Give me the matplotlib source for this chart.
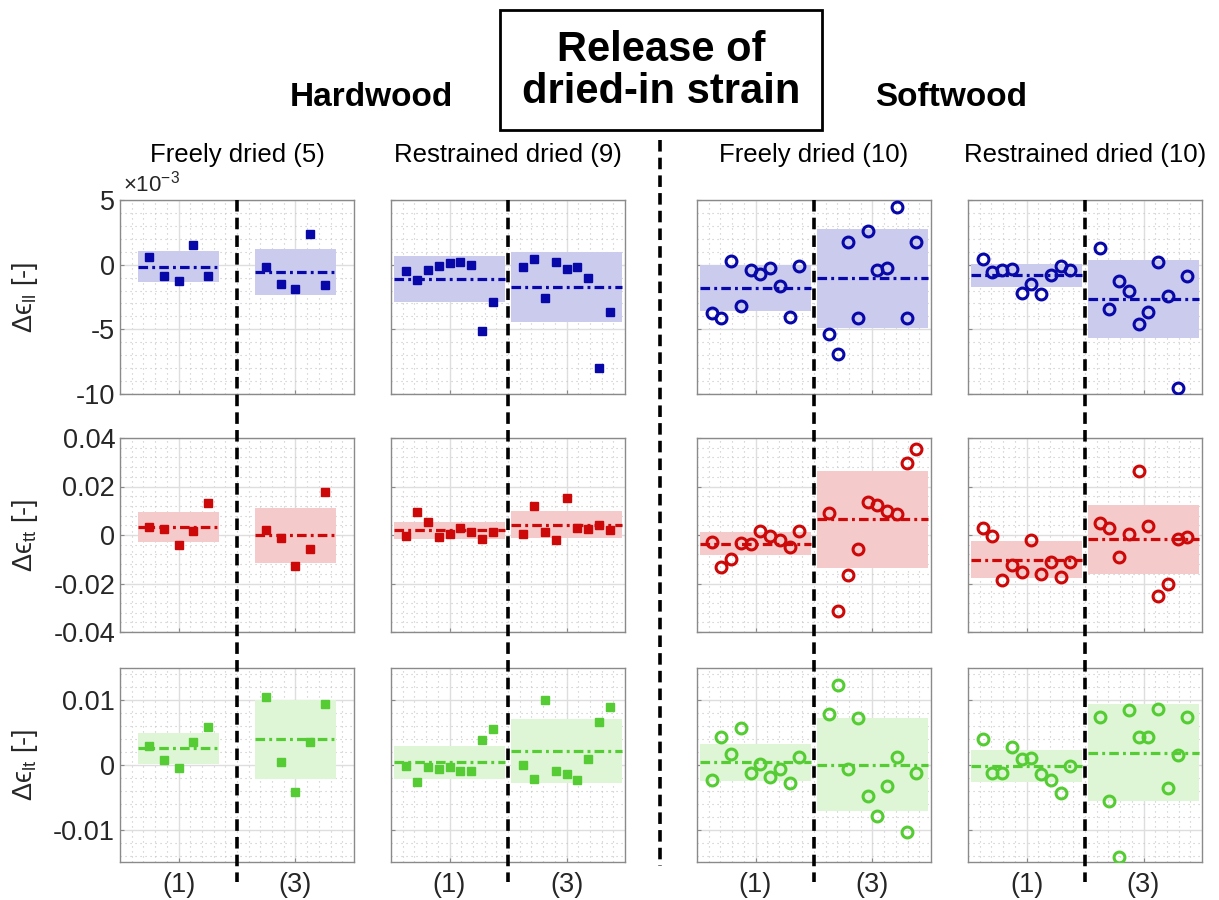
import numpy as np
import matplotlib
matplotlib.use("Agg")
import matplotlib.pyplot as plt
from matplotlib.patches import Rectangle
from matplotlib.lines import Line2D
from matplotlib.ticker import MultipleLocator, FixedLocator, FuncFormatter

plt.rcParams['font.family'] = ['Liberation Sans', 'DejaVu Sans']
plt.rcParams['mathtext.fontset'] = 'custom'
plt.rcParams['mathtext.rm'] = 'Liberation Sans'
plt.rcParams['mathtext.it'] = 'Liberation Sans:italic'
plt.rcParams['mathtext.bf'] = 'Liberation Sans:bold'

# ---- data (all strains in units of 1e-3), each entry = (group (1), group (3)) ----
col_titles = ["Freely dried (5)", "Restrained dried (9)", "Freely dried (10)", "Restrained dried (10)"]
group_labels = ["(1)", "(3)"]
row_labels = ["\u0394\u03f5$_{\\rm ll}$ [-]", "\u0394\u03f5$_{\\rm tt}$ [-]", "\u0394\u03f5$_{\\rm lt}$ [-]"]

ll_hw_free = ([0.62, -0.85, -1.24, 1.55, -0.85],
              [-0.21, -1.52, -1.91, 2.40, -1.57])
ll_hw_restr = ([-0.52, -1.21, -0.41, -0.13, 0.10, 0.23, -0.03, -5.13, -2.86],
               [-0.18, 0.41, -2.55, 0.18, -0.34, -0.15, -1.06, -7.96, -3.63])
ll_sw_free = ([-3.71, -4.12, 0.31, -3.22, -0.44, -0.70, -0.23, -1.65, -4.02, -0.08],
              [-5.36, -6.91, 1.75, -4.15, 2.63, -0.44, -0.26, 4.48, -4.15, 1.75])
ll_sw_restr = ([0.44, -0.59, -0.44, -0.34, -2.16, -1.47, -2.27, -0.80, -0.13, -0.39],
               [1.31, -3.43, -1.24, -2.04, -4.56, -3.66, 0.21, -2.45, -9.56, -0.90])

tt_hw_free = ([3.2, 2.5, -4.2, 1.5, 13.3],
              [2.2, -1.25, -12.8, -5.8, 17.6])
tt_hw_restr = ([-0.6, 9.6, 5.3, -1.0, 0.3, 2.8, 1.1, -1.8, 1.25],
               [0.4, 11.8, 1.25, -2.2, 15.1, 2.9, 2.5, 4.3, 2.1])
tt_sw_free = ([-2.8, -13.2, -9.7, -3.3, -3.6, 1.8, -0.4, -1.9, -5.0, 1.5],
              [9.0, -31.4, -16.3, -5.7, 13.7, 12.3, 9.7, 8.8, 29.7, 35.4])
tt_sw_restr = ([2.8, -0.4, -18.6, -12.4, -15.2, -2.1, -15.9, -11.2, -17.5, -11.2],
               [4.8, 2.9, -9.1, 0.55, 26.5, 3.7, -25.0, -20.1, -1.7, -0.7])

lt_hw_free = ([3.0, 0.8, -0.4, 3.6, 5.8],
              [10.5, 0.5, -4.1, 3.5, 9.5])
lt_hw_restr = ([-0.15, -2.6, -0.26, -0.6, -0.26, -1.0, -1.0, 3.9, 5.5],
               [0.0, -2.1, 10.05, -0.9, -1.45, -2.3, 1.0, 6.7, 8.9])
lt_sw_free = ([-2.3, 4.4, 1.7, 5.7, -1.3, 0.15, -1.9, -0.6, -2.8, 1.2],
              [7.9, 12.3, -0.6, 7.2, -4.75, -7.9, -3.3, 1.2, -10.3, -1.2])
lt_sw_restr = ([4.0, -1.25, -1.25, 2.85, 1.0, 1.15, -1.35, -2.3, -4.35, -0.15],
               [7.4, -5.5, -14.3, 8.5, 4.3, 4.4, 8.7, -3.6, 1.55, 7.45])

rows = [[ll_hw_free, ll_hw_restr, ll_sw_free, ll_sw_restr],
        [tt_hw_free, tt_hw_restr, tt_sw_free, tt_sw_restr],
        [lt_hw_free, lt_hw_restr, lt_sw_free, lt_sw_restr]]

row_colors = ["#0808A8", "#CC0808", "#55CC33"]
row_fills = ["#CBCBEE", "#F4CACA", "#DEF5D6"]
row_ylim = [(-10e-3, 5e-3), (-0.04, 0.04), (-0.015, 0.015)]
row_major = [5e-3, 0.02, 0.01]
row_minor = [1e-3, 0.004, 0.002]

W, H = 1219, 900
col_left = [120, 391, 697, 968]
row_top = [200, 438, 668]
ax_w, ax_h = 234, 194


def fx(px):
    return px / W


def fy(py):
    return 1 - py / H


def draw_panel(ax, pair, color, fill, hollow):
    for k, vals in enumerate(pair):
        v = np.asarray(vals) * 1e-3
        n = len(v)
        half = 0.5 if n < 6 else 0.75
        c = 1 + 2 * k
        xs = np.linspace(c - half, c + half, n)
        m, s = v.mean(), v.std(ddof=1)
        x0, x1 = c - half - 0.2, c + half + 0.2
        ax.fill_between([x0, x1], [m - s] * 2, [m + s] * 2, color=fill, lw=0, zorder=2)
        ax.plot([x0, x1], [m, m], ls=(0, (3.0, 1.3, 0.9, 1.3)), color=color, lw=2.3, zorder=3)
        if hollow:
            ax.plot(xs, v, "o", mfc="none", mec=color, mew=2.2, ms=7.8, zorder=4)
        else:
            ax.plot(xs, v, "s", color=color, ms=6.3, zorder=4)


fig = plt.figure(figsize=(W / 100, H / 100), dpi=100)

for r in range(3):
    for c in range(4):
        ax = fig.add_axes([fx(col_left[c]), fy(row_top[r] + ax_h), fx(ax_w), ax_h / H])
        draw_panel(ax, rows[r][c], row_colors[r], row_fills[r], hollow=(c >= 2))
        ax.set_xlim(0, 4)
        ax.set_ylim(*row_ylim[r])
        ax.xaxis.set_major_locator(FixedLocator([1, 3]))
        ax.xaxis.set_minor_locator(MultipleLocator(0.2))
        ax.yaxis.set_major_locator(MultipleLocator(row_major[r]))
        ax.yaxis.set_minor_locator(MultipleLocator(row_minor[r]))
        ax.set_axisbelow(True)
        ax.grid(which="major", color="#dedede", lw=1.0, ls="-", zorder=0)
        ax.grid(which="minor", color="#c4c4c4", lw=0.8, ls=(0, (1, 3.5)), zorder=0)
        for sp in ax.spines.values():
            sp.set_color("#8a8a8a")
            sp.set_linewidth(1.0)
        ax.tick_params(which="major", direction="in", length=3, color="#8a8a8a",
                       labelsize=19.5, labelcolor="#262626")
        ax.tick_params(axis="x", which="major", pad=7)
        ax.tick_params(which="minor", length=0)
        if r == 2:
            ax.set_xticklabels(group_labels)
        else:
            ax.set_xticklabels([])
        if c == 0:
            if r == 0:
                ax.yaxis.set_major_formatter(FuncFormatter(lambda v, p: f"{round(v * 1e3, 6) + 0.0:g}"))
            else:
                ax.yaxis.set_major_formatter(FuncFormatter(lambda v, p: f"{round(v, 6) + 0.0:g}"))
            ax.set_ylabel(row_labels[r], fontsize=19.5, color="#262626")
            ax.yaxis.set_label_coords(-0.34, 0.5)
        else:
            ax.set_yticklabels([])
        if r == 0:
            fig.text(fx(col_left[c] + ax_w / 2), fy(155), col_titles[c],
                     ha="center", va="center", fontsize=18.5)

# dashed separators between (1) and (3), running through all rows
for c in range(4):
    xc = fx(col_left[c] + ax_w / 2)
    fig.add_artist(Line2D([xc, xc], [fy(200), fy(882)], transform=fig.transFigure,
                          color="black", lw=2.6, ls=(0, (3.2, 1.7)), zorder=10))
# dashed separator hardwood / softwood
fig.add_artist(Line2D([fx(660), fx(660)], [fy(140), fy(866)], transform=fig.transFigure,
                      color="black", lw=2.6, ls=(0, (3.2, 1.7)), zorder=10))

fig.text(fx(123), fy(184), r"$\times$10$^{-3}$", ha="left", va="center", fontsize=16, color="#262626")

# headings
fig.text(fx(371), fy(98), "Hardwood", ha="center", va="center", fontsize=24, fontweight="bold")
fig.text(fx(951), fy(98), "Softwood", ha="center", va="center", fontsize=24, fontweight="bold")
fig.add_artist(Rectangle((fx(500), fy(130)), fx(322), 120 / H, transform=fig.transFigure,
                         facecolor="white", edgecolor="black", lw=2.0, zorder=11))
fig.text(fx(661), fy(71), "Release of\ndried-in strain", ha="center", va="center",
         fontsize=30, fontweight="bold", linespacing=1.05, zorder=12)

fig.savefig("out.png", dpi=100)
